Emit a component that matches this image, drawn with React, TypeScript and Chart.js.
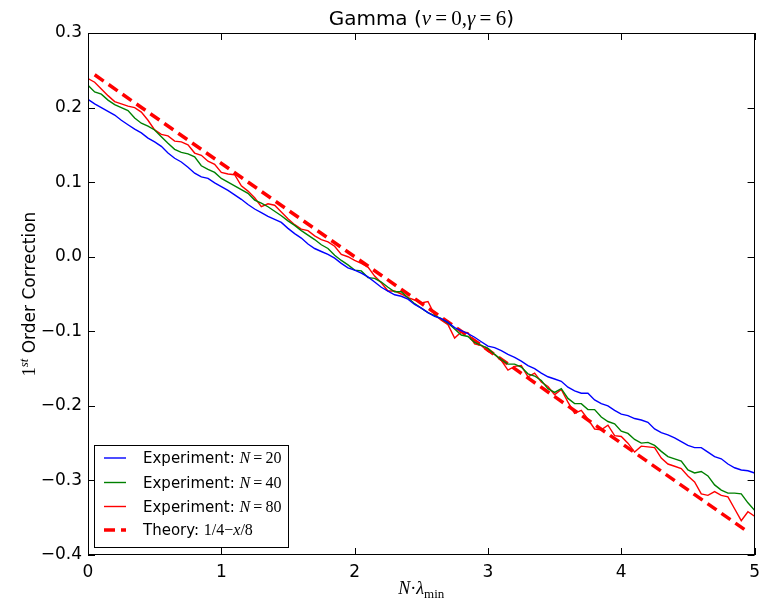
import React, { useEffect, useRef } from 'react';
import { Chart, registerables } from 'chart.js';

Chart.register(...registerables);

// x positions: N·λmin from 0 to 5, step 0.05
const xValues: number[] = Array.from({ length: 101 }, (_, i) => Math.round(i * 5) / 100);

const expN20: number[] = [
  0.211, 0.205, 0.200, 0.195, 0.190, 0.183, 0.177, 0.171, 0.166, 0.159,
  0.154, 0.148, 0.139, 0.132, 0.127, 0.120, 0.112, 0.107, 0.105, 0.099,
  0.094, 0.089, 0.083, 0.077, 0.070, 0.064, 0.059, 0.054, 0.050, 0.046,
  0.038, 0.031, 0.025, 0.017, 0.011, 0.007, 0.003, -0.002, -0.009, -0.015,
  -0.018, -0.022, -0.027, -0.034, -0.041, -0.046, -0.051, -0.053, -0.057, -0.064,
  -0.069, -0.075, -0.080, -0.083, -0.088, -0.095, -0.099, -0.103, -0.108, -0.114,
  -0.120, -0.122, -0.126, -0.131, -0.135, -0.140, -0.146, -0.150, -0.156, -0.161,
  -0.164, -0.167, -0.175, -0.180, -0.183, -0.183, -0.192, -0.197, -0.200, -0.206,
  -0.211, -0.213, -0.217, -0.219, -0.222, -0.231, -0.236, -0.239, -0.243, -0.248,
  -0.253, -0.256, -0.256, -0.262, -0.268, -0.271, -0.278, -0.283, -0.286, -0.287,
  -0.290,
];

const expN40: number[] = [
  0.230, 0.221, 0.218, 0.210, 0.204, 0.200, 0.196, 0.186, 0.179, 0.175,
  0.170, 0.161, 0.152, 0.144, 0.140, 0.138, 0.134, 0.122, 0.117, 0.113,
  0.105, 0.100, 0.095, 0.090, 0.085, 0.076, 0.072, 0.067, 0.061, 0.055,
  0.048, 0.042, 0.035, 0.029, 0.023, 0.016, 0.011, 0.002, -0.005, -0.011,
  -0.018, -0.019, -0.028, -0.029, -0.034, -0.041, -0.047, -0.047, -0.055, -0.063,
  -0.069, -0.075, -0.079, -0.083, -0.089, -0.097, -0.105, -0.107, -0.115, -0.119,
  -0.123, -0.131, -0.138, -0.144, -0.144, -0.148, -0.157, -0.160, -0.166, -0.177,
  -0.182, -0.177, -0.190, -0.197, -0.197, -0.205, -0.205, -0.215, -0.221, -0.224,
  -0.234, -0.237, -0.245, -0.250, -0.249, -0.253, -0.261, -0.268, -0.271, -0.274,
  -0.286, -0.290, -0.288, -0.294, -0.306, -0.313, -0.317, -0.317, -0.318, -0.330,
  -0.340,
];

const expN80: number[] = [
  0.239, 0.234, 0.225, 0.216, 0.208, 0.205, 0.202, 0.200, 0.194, 0.183,
  0.170, 0.164, 0.162, 0.155, 0.154, 0.150, 0.139, 0.136, 0.128, 0.124,
  0.113, 0.111, 0.110, 0.095, 0.088, 0.079, 0.067, 0.071, 0.069, 0.060,
  0.051, 0.043, 0.037, 0.035, 0.028, 0.023, 0.020, 0.014, 0.003, 0.000,
  -0.005, -0.009, -0.014, -0.026, -0.035, -0.046, -0.046, -0.050, -0.055, -0.058,
  -0.062, -0.060, -0.078, -0.085, -0.091, -0.109, -0.101, -0.102, -0.117, -0.119,
  -0.127, -0.131, -0.139, -0.152, -0.147, -0.146, -0.161, -0.156, -0.168, -0.174,
  -0.185, -0.178, -0.195, -0.210, -0.206, -0.218, -0.231, -0.232, -0.226, -0.240,
  -0.241, -0.250, -0.262, -0.254, -0.255, -0.256, -0.270, -0.278, -0.281, -0.284,
  -0.294, -0.302, -0.318, -0.320, -0.315, -0.320, -0.322, -0.338, -0.354, -0.342,
  -0.348,
];

// Theory 1/4 - x/8: its two visible end points
const theoryX: number[] = [0.05, 4.95];
const theoryY: number[] = [0.244, -0.369];

const xTicks: number[] = [0, 1, 2, 3, 4, 5];
const yTicks: number[] = [-0.4, -0.3, -0.2, -0.1, 0.0, 0.1, 0.2, 0.3];

const SANS = '"DejaVu Sans"';
const SERIF = '"Liberation Serif"';

type Seg = { t: string; f: string; dy?: number };

function richWidth(ctx: CanvasRenderingContext2D, segs: Seg[]) {
  let w = 0;
  for (const s of segs) {
    ctx.font = s.f;
    w += ctx.measureText(s.t).width;
  }
  return w;
}

function drawRich(ctx: CanvasRenderingContext2D, segs: Seg[], x: number, y: number, align: 'left' | 'center') {
  const w = richWidth(ctx, segs);
  let cx = align === 'center' ? x - w / 2 : x;
  ctx.textAlign = 'left';
  ctx.textBaseline = 'alphabetic';
  for (const s of segs) {
    ctx.font = s.f;
    ctx.fillText(s.t, cx, y + (s.dy || 0));
    cx += ctx.measureText(s.t).width;
  }
}

const decorPlugin = {
  id: 'decor',
  afterDraw(chart: any) {
    const ctx: CanvasRenderingContext2D = chart.ctx;
    const { left, right, top, bottom } = chart.chartArea;
    const xs = chart.scales.x;
    const ys = chart.scales.y;
    ctx.save();
    // frame
    ctx.strokeStyle = '#000';
    ctx.lineWidth = 1;
    ctx.strokeRect(Math.round(left) + 0.5, Math.round(top) + 0.5, Math.round(right - left) - 1, Math.round(bottom - top) - 1);
    // inward ticks
    const tl = 7;
    ctx.beginPath();
    for (const v of xTicks) {
      const px = Math.round(xs.getPixelForValue(v)) + 0.5;
      ctx.moveTo(px, bottom);
      ctx.lineTo(px, bottom - tl);
      ctx.moveTo(px, top);
      ctx.lineTo(px, top + tl);
    }
    for (const v of yTicks) {
      const py = Math.round(ys.getPixelForValue(v)) + 0.5;
      ctx.moveTo(left, py);
      ctx.lineTo(left + tl, py);
      ctx.moveTo(right, py);
      ctx.lineTo(right - tl, py);
    }
    ctx.stroke();

    ctx.fillStyle = '#000';
    const cxm = (left + right) / 2;
    // title
    const tS = `20px ${SANS}`;
    const tM = `21px ${SERIF}`;
    const tI = `italic 21px ${SERIF}`;
    drawRich(ctx, [
      { t: 'Gamma (', f: tS },
      { t: 'ν', f: tI },
      { t: '\u2009=\u20090,', f: tM },
      { t: 'γ', f: tI },
      { t: '\u2009=\u20096', f: tM },
      { t: ')', f: tS },
    ], cxm, top - 8, 'center');

    // x label
    drawRich(ctx, [
      { t: 'N', f: `italic 18px ${SERIF}` },
      { t: '·', f: `18px ${SERIF}` },
      { t: 'λ', f: `italic 18px ${SERIF}` },
      { t: 'min', f: `13px ${SERIF}`, dy: 4 },
    ], cxm, 594, 'center');

    // y label
    ctx.save();
    ctx.translate(35, (top + bottom) / 2);
    ctx.rotate(-Math.PI / 2);
    drawRich(ctx, [
      { t: '1', f: `18px ${SERIF}` },
      { t: 'st', f: `italic 13px ${SERIF}`, dy: -7 },
      { t: ' Order Correction', f: `17px ${SANS}` },
    ], 0, 0, 'center');
    ctx.restore();

    // legend
    const lx = 94, ly = 445, lw = 194, lh = 102;
    ctx.fillStyle = '#fff';
    ctx.fillRect(lx, ly, lw, lh);
    ctx.strokeStyle = '#000';
    ctx.lineWidth = 1;
    ctx.strokeRect(lx + 0.5, ly + 0.5, lw, lh);
    const rows = [458, 482.5, 506.5, 530];
    const lS = `15px ${SANS}`;
    const lM = `16px ${SERIF}`;
    const lI = `italic 16px ${SERIF}`;
    const labels: Seg[][] = [
      [{ t: 'Experiment: ', f: lS }, { t: 'N', f: lI }, { t: '\u2009=\u200920', f: lM }],
      [{ t: 'Experiment: ', f: lS }, { t: 'N', f: lI }, { t: '\u2009=\u200940', f: lM }],
      [{ t: 'Experiment: ', f: lS }, { t: 'N', f: lI }, { t: '\u2009=\u200980', f: lM }],
      [{ t: 'Theory: ', f: lS }, { t: '1/4\u2212', f: lM }, { t: 'x', f: lI }, { t: '/8', f: lM }],
    ];
    chart.data.datasets.forEach((ds: any, i: number) => {
      const y = rows[i];
      ctx.save();
      ctx.strokeStyle = ds.borderColor;
      ctx.lineWidth = ds.borderWidth;
      ctx.setLineDash(ds.borderDash || []);
      ctx.beginPath();
      ctx.moveTo(104, y);
      ctx.lineTo(126, y);
      ctx.stroke();
      ctx.restore();
      ctx.fillStyle = '#000';
      drawRich(ctx, labels[i], 143, y + 5, 'left');
    });
    ctx.restore();
  },
};

function fmtY(v: number) {
  let r = Math.round(v * 10) / 10;
  if (Object.is(r, -0) || Math.abs(r) < 1e-9) r = 0;
  return r.toFixed(1).replace('-', '\u2212');
}

export default function App() {
  const ref = useRef<HTMLCanvasElement | null>(null);
  useEffect(() => {
    if (!ref.current) return;
    const mk = (ys: number[]) => xValues.map((x, i) => ({ x, y: ys[i] }));
    const chart = new Chart(ref.current, {
      type: 'line',
      data: {
        datasets: [
          { label: 'Experiment: N=20', data: mk(expN20), borderColor: '#0000ff', borderWidth: 1.4, pointRadius: 0, tension: 0 },
          { label: 'Experiment: N=40', data: mk(expN40), borderColor: '#008000', borderWidth: 1.4, pointRadius: 0, tension: 0 },
          { label: 'Experiment: N=80', data: mk(expN80), borderColor: '#ff0000', borderWidth: 1.4, pointRadius: 0, tension: 0 },
          {
            label: 'Theory: 1/4-x/8',
            data: theoryX.map((x, i) => ({ x, y: theoryY[i] })),
            borderColor: '#ff0000', borderWidth: 3.5, borderDash: [11, 6], pointRadius: 0, tension: 0,
          },
        ],
      },
      options: {
        responsive: false,
        devicePixelRatio: 1,
        animation: false,
        layout: { padding: { top: 33, right: 10, left: 0, bottom: 0 } },
        plugins: { legend: { display: false }, title: { display: false }, tooltip: { enabled: false } },
        scales: {
          x: {
            type: 'linear', min: 0, max: 5,
            grid: { display: false, drawTicks: false },
            border: { display: false },
            afterFit: (s: any) => { s.height = 51; },
            afterBuildTicks: (s: any) => { s.ticks = xTicks.map((v) => ({ value: v })); },
            ticks: { color: '#000', padding: 7, font: { family: 'DejaVu Sans', size: 17 }, callback: (v: any) => String(v) },
          },
          y: {
            type: 'linear', min: -0.4, max: 0.3,
            grid: { display: false, drawTicks: false },
            border: { display: false },
            afterFit: (s: any) => { s.width = 88; },
            afterBuildTicks: (s: any) => { s.ticks = yTicks.map((v) => ({ value: v })); },
            ticks: { color: '#000', padding: 6, font: { family: 'DejaVu Sans', size: 17 }, callback: (v: any) => fmtY(Number(v)) },
          },
        },
      },
      plugins: [decorPlugin],
    } as any);
    return () => chart.destroy();
  }, []);
  return (
    <div style={{ position: 'absolute', left: 0, top: 0, width: 767, height: 606, background: '#fff' }}>
      <canvas ref={ref} width={767} height={606} style={{ width: 767, height: 606 }} />
    </div>
  );
}
